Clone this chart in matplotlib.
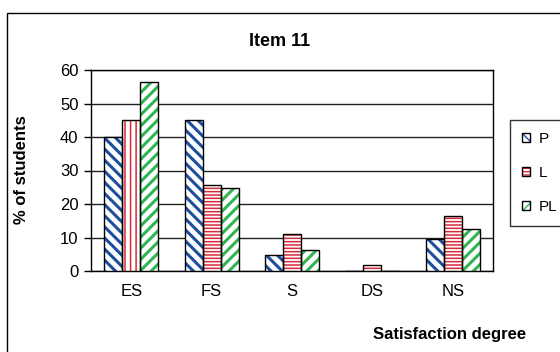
import matplotlib
matplotlib.use("Agg")
import matplotlib.pyplot as plt
from matplotlib.patches import Rectangle, Patch
from matplotlib.legend_handler import HandlerTuple
import numpy as np

categories = ["ES", "FS", "S", "DS", "NS"]
series = ["P", "L", "PL"]
p_values = [40.0, 45.0, 4.7, 0.0, 9.7]
l_values = [45.0, 25.8, 11.0, 1.7, 16.3]
pl_values = [56.5, 24.7, 6.2, 0.0, 12.4]
y_ticks = [0, 10, 20, 30, 40, 50, 60]

plt.rcParams["font.family"] = ["Liberation Sans", "DejaVu Sans"]

W, H = 560, 352
fig = plt.figure(figsize=(W / 100, H / 100), dpi=100)
fig.patch.set_facecolor("white")

# chart-area frame (runs past the right and bottom edges)
fig.patches.append(Rectangle((7 / W, -0.05), 1.1, 1 - 13 / H + 0.05,
                             transform=fig.transFigure, fill=False,
                             edgecolor="black", linewidth=1.0))

ax = fig.add_axes([91 / W, 1 - 271 / H, (493 - 91) / W, (271 - 70) / H])

styles = {
    "P": dict(color="#1f4e9c", hatch="\\\\\\", hlw=2.2),
    "L": dict(color="#d62a3a", hatch="-----", hlw=1.1),
    "PL": dict(color="#2fb552", hatch="///", hlw=2.2),
}
values = {"P": p_values, "L": l_values, "PL": pl_values}

x = np.arange(len(categories))
width = 0.224
handles = []
for i, name in enumerate(series):
    st = styles[name]
    offs = x + (i - 1) * width
    with plt.rc_context({"hatch.linewidth": st["hlw"]}):
        bars = ax.bar(offs, values[name], width, facecolor="white",
                      edgecolor=st["color"], hatch=st["hatch"],
                      linewidth=0, zorder=3)
        if name == "L":
            # the ES bar renders with vertical stripes
            bars[0].set_hatch("|||")
    ax.bar(offs, values[name], width, facecolor="none", edgecolor="black",
           linewidth=1.0, zorder=4)
    with plt.rc_context({"hatch.linewidth": st["hlw"]}):
        hp = Patch(facecolor="white", edgecolor=st["color"],
                   hatch=st["hatch"], linewidth=0)
    bp = Patch(facecolor="none", edgecolor="black", linewidth=1.0)
    handles.append((hp, bp))

ax.set_xlim(-0.5, len(categories) - 0.5)
ax.set_ylim(0, 60)
ax.set_yticks(y_ticks)
ax.set_xticks(x)
ax.set_xticklabels(categories)
ax.tick_params(axis="x", length=0, pad=9, labelsize=12)
ax.tick_params(axis="y", length=5, width=1, pad=4, labelsize=12)
for s in ax.spines.values():
    s.set_linewidth(1.0)
    s.set_color("black")
ax.yaxis.grid(True, color="#222222", linewidth=1.0, zorder=0)
ax.set_axisbelow(True)

fig.text(280 / W, 1 - 42 / H, "Item 11", fontsize=13, fontweight="bold",
         ha="center", va="center")
fig.text(22 / W, 1 - 170 / H, "% of students", fontsize=12,
         fontweight="bold", ha="center", va="center", rotation=90)
fig.text(450 / W, 1 - 335 / H, "Satisfaction degree", fontsize=12,
         fontweight="bold", ha="center", va="center")

leg = fig.legend(handles, series, loc="upper left",
                 bbox_to_anchor=(510 / W, 1 - 120 / H),
                 bbox_transform=fig.transFigure, borderaxespad=0,
                 frameon=True, fancybox=False, edgecolor="black",
                 handlelength=0.5, handleheight=0.5, handletextpad=0.6,
                 labelspacing=1.3, borderpad=0.8, fontsize=11,
                 handler_map={tuple: HandlerTuple(ndivide=1)})
leg.get_frame().set_linewidth(1.0)

fig.savefig("out.png", dpi=100)
